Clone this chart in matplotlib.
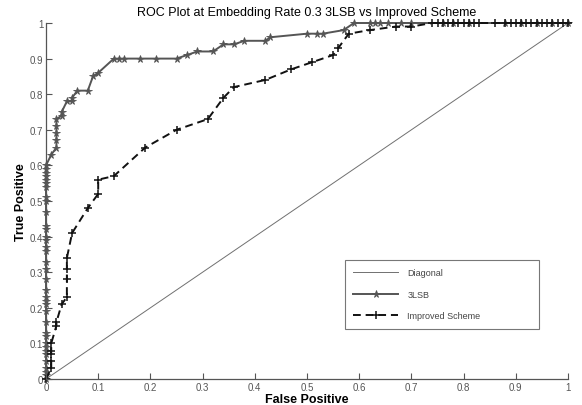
import matplotlib
matplotlib.use("Agg")
import matplotlib.pyplot as plt

# 3LSB curve (false positive, true positive)
lsb_fp = [0] * 36 + [
    0.01, 0.02, 0.02, 0.02, 0.02, 0.02, 0.03, 0.03, 0.04, 0.05, 0.05, 0.06,
    0.08, 0.09, 0.10, 0.13, 0.14, 0.15, 0.18, 0.21, 0.25, 0.27, 0.29, 0.32,
    0.34, 0.36, 0.38, 0.42, 0.43, 0.50, 0.52, 0.53, 0.57, 0.59, 0.62, 0.63,
    0.64, 0.655, 0.68, 0.70, 0.76, 0.78, 0.81, 0.88, 0.91, 0.94, 0.97, 1.0]
lsb_tp = [
    0, 0.01, 0.02, 0.03, 0.05, 0.07, 0.08, 0.09, 0.10, 0.12, 0.13, 0.16,
    0.19, 0.21, 0.22, 0.23, 0.25, 0.28, 0.31, 0.33, 0.36, 0.37, 0.39, 0.40,
    0.42, 0.43, 0.47, 0.50, 0.51, 0.54, 0.55, 0.56, 0.57, 0.58, 0.59, 0.60,
    0.63, 0.65, 0.67, 0.69, 0.71, 0.73, 0.74, 0.75, 0.78, 0.78, 0.79, 0.81,
    0.81, 0.85, 0.86, 0.90, 0.90, 0.90, 0.90, 0.90, 0.90, 0.91, 0.92, 0.92,
    0.94, 0.94, 0.95, 0.95, 0.96, 0.97, 0.97, 0.97, 0.98, 1.0, 1.0, 1.0,
    1.0, 1.0, 1.0, 1.0, 1.0, 1.0, 1.0, 1.0, 1.0, 1.0, 1.0, 1.0]

# Improved scheme curve
imp_fp = [
    0, 0.01, 0.01, 0.01, 0.01, 0.01, 0.02, 0.02, 0.03, 0.04, 0.04, 0.04,
    0.04, 0.05, 0.08, 0.10, 0.10, 0.13, 0.19, 0.25, 0.31, 0.34, 0.36, 0.42,
    0.47, 0.51, 0.55, 0.56, 0.58, 0.62, 0.67, 0.70, 0.74, 0.75, 0.76, 0.77,
    0.78, 0.79, 0.80, 0.81, 0.82, 0.83, 0.86, 0.88, 0.89, 0.90, 0.91, 0.92,
    0.93, 0.94, 0.95, 0.96, 0.97, 0.98, 0.99, 1.0]
imp_tp = [
    0, 0.03, 0.05, 0.07, 0.08, 0.10, 0.15, 0.16, 0.21, 0.23, 0.28, 0.31,
    0.34, 0.41, 0.48, 0.52, 0.56, 0.57, 0.65, 0.70, 0.73, 0.79, 0.82, 0.84,
    0.87, 0.89, 0.91, 0.93, 0.97, 0.98, 0.99, 0.99, 1.0, 1.0, 1.0, 1.0,
    1.0, 1.0, 1.0, 1.0, 1.0, 1.0, 1.0, 1.0, 1.0, 1.0, 1.0, 1.0,
    1.0, 1.0, 1.0, 1.0, 1.0, 1.0, 1.0, 1.0]

ticks = [0, 0.1, 0.2, 0.3, 0.4, 0.5, 0.6, 0.7, 0.8, 0.9, 1]
tick_labels = ["0", "0.1", "0.2", "0.3", "0.4", "0.5", "0.6", "0.7", "0.8", "0.9", "1"]

plt.rcParams['font.family'] = ['Liberation Sans', 'DejaVu Sans']

fig = plt.figure(figsize=(5.82, 4.06), dpi=100)
ax = fig.add_axes([46 / 582, 26 / 406, 522 / 582, 356 / 406])

ax.plot([0, 1], [0, 1], color='#707070', linewidth=0.7, label='Diagonal')
ax.plot(lsb_fp, lsb_tp, color='#555555', linewidth=1.4, marker='*',
        markersize=5.5, markeredgewidth=0.6, label='3LSB', clip_on=False)
ax.plot(imp_fp, imp_tp, color='#111111', linewidth=1.4, linestyle=(0, (4, 2.5)),
        marker='+', markersize=6, markeredgewidth=1.1, label='Improved Scheme',
        clip_on=False)

ax.set_xlim(0, 1)
ax.set_ylim(0, 1)
ax.set_xticks(ticks)
ax.set_xticklabels(tick_labels)
ax.set_yticks(ticks)
ax.set_yticklabels(tick_labels)
ax.tick_params(direction='in', length=4, width=0.8, colors='#555555',
               labelsize=7, pad=2)
for side in ['top', 'right']:
    ax.spines[side].set_visible(False)
for side in ['left', 'bottom']:
    ax.spines[side].set_color('#555555')
    ax.spines[side].set_linewidth(0.9)

ax.set_title('ROC Plot at Embedding Rate 0.3 3LSB vs Improved Scheme',
             fontsize=9, pad=6)
ax.set_xlabel('False Positive', fontsize=9, fontweight='bold', labelpad=1)
ax.set_ylabel('True Positive', fontsize=9, fontweight='bold', labelpad=2)

leg = ax.legend(loc='upper left',
                bbox_to_anchor=(345 / 582, 1 - 324 / 406, 194 / 582, 63 / 406),
                bbox_transform=fig.transFigure, mode='expand', fontsize=6.5,
                frameon=True, fancybox=False, edgecolor='#555555',
                handlelength=5.0, borderpad=0.9, labelspacing=1.4,
                handletextpad=1.0, borderaxespad=0)
leg.get_frame().set_linewidth(0.8)
for t in leg.get_texts():
    t.set_color('#444444')

fig.savefig('out.png', dpi=100)
